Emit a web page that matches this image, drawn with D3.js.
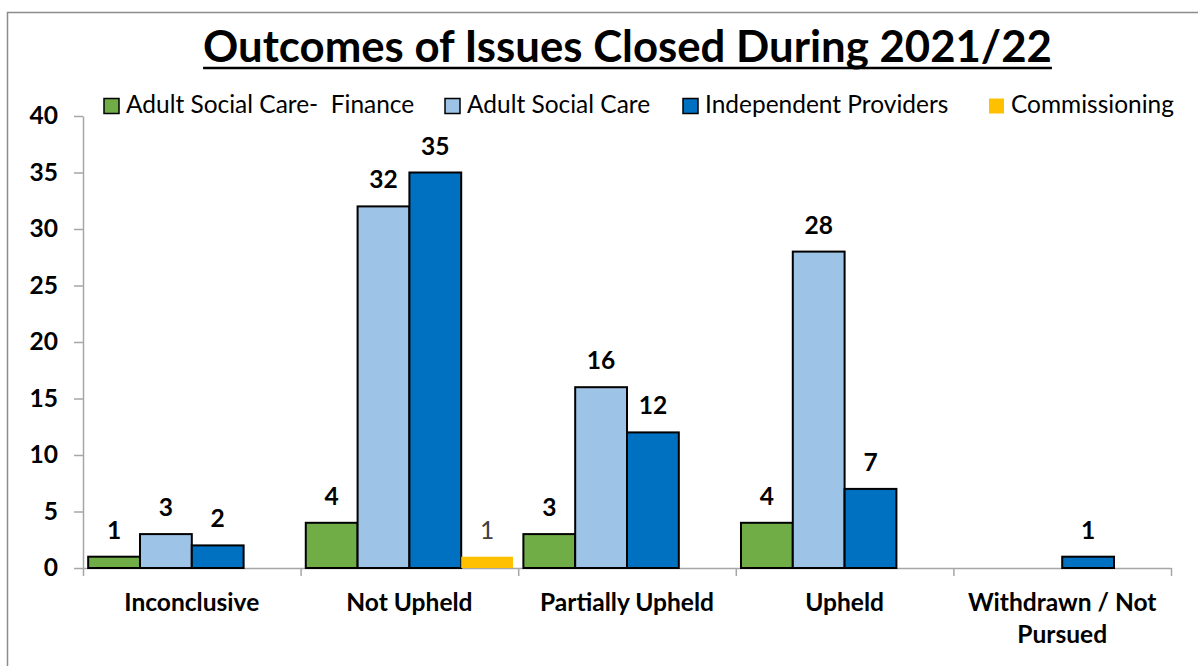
<!DOCTYPE html>
<html>
<head>
<meta charset="utf-8">
<script src="https://cdn.jsdelivr.net/npm/d3@7"></script>
<style>
  body { margin: 0; background: #fff; }
  text { font-family: Lato, "Open Sans", sans-serif; fill: #000; }
</style>
</head>
<body>
<svg id="chart" width="1198" height="666"></svg>
<script>
const title = 'Outcomes of Issues Closed During 2021/22';
const categories = ['Inconclusive', 'Not Upheld', 'Partially Upheld', 'Upheld', 'Withdrawn / Not\nPursued'];
const seriesNames = ['Adult Social Care-  Finance', 'Adult Social Care', 'Independent Providers', 'Commissioning'];
const ascFinance = [1, 4, 3, 4, null];
const ascCare = [3, 32, 16, 28, null];
const independentProviders = [2, 35, 12, 7, 1];
const commissioning = [null, 1, null, null, null];
const yTicks = [0, 5, 10, 15, 20, 25, 30, 35, 40];

const seriesValues = [ascFinance, ascCare, independentProviders, commissioning];
const colors = ['#70AD47', '#9DC3E6', '#0070C0', '#FFC000'];

const svg = d3.select('#chart');

// size a font so the string is as wide as in the picture
function fitSize(str, weight, target) {
  const t = svg.append('text').attr('font-size', 100).attr('font-weight', weight).text(str);
  const w = t.node().getComputedTextLength();
  t.remove();
  return 100 * target / w;
}

const titleSize = fitSize(title, 700, 849);
const labelSize = fitSize('Inconclusive', 700, 135);
const legendSize = fitSize('Commissioning', 400, 163);

// outer frame
svg.append('rect')
  .attr('x', 7.5).attr('y', 12.5)
  .attr('width', 1400).attr('height', 900)
  .attr('fill', 'none').attr('stroke', '#8c8c8c').attr('stroke-width', 1.5);

// title
const titleX = 627.5;
const tt = svg.append('text')
  .attr('x', titleX).attr('y', 62)
  .attr('text-anchor', 'middle')
  .attr('font-size', titleSize).attr('font-weight', 700)
  .text(title);
const tw = tt.node().getComputedTextLength();
svg.append('line')
  .attr('x1', titleX - tw / 2).attr('x2', titleX + tw / 2)
  .attr('y1', 68).attr('y2', 68)
  .attr('stroke', '#000').attr('stroke-width', 2.5);

// scales
const x0 = d3.scaleBand().domain(categories).range([83, 1171]);
const x1 = d3.scaleBand().domain(d3.range(seriesNames.length))
  .range([0, x0.bandwidth()]).paddingOuter(0.1);
const y = d3.scaleLinear().domain([0, 40]).range([568, 116]);

// y axis
const yAxis = svg.append('g')
  .attr('transform', 'translate(83,0)')
  .call(d3.axisLeft(y).tickValues(yTicks).tickSize(9).tickSizeOuter(0).tickPadding(16));
yAxis.select('.domain').attr('stroke', '#a6a6a6').attr('stroke-width', 1.5);
yAxis.selectAll('.tick line').attr('stroke', '#a6a6a6').attr('stroke-width', 1.5);
yAxis.selectAll('.tick text')
  .attr('font-size', labelSize).attr('font-weight', 700)
  .attr('font-family', 'Lato, "Open Sans", sans-serif').attr('fill', '#000');

// x axis: ticks between categories
const xEdge = d3.scaleLinear().domain([0, categories.length]).range([83, 1171]);
const xAxis = svg.append('g')
  .attr('transform', `translate(0,${y(0)})`)
  .call(d3.axisBottom(xEdge).tickValues(d3.range(categories.length + 1))
    .tickFormat('').tickSize(8).tickSizeOuter(0));
xAxis.select('.domain').attr('stroke', '#a6a6a6').attr('stroke-width', 1.5);
xAxis.selectAll('.tick line').attr('stroke', '#a6a6a6').attr('stroke-width', 1.5);

// category labels
const catG = svg.append('g');
categories.forEach(c => {
  const t = catG.append('text')
    .attr('x', x0(c) + x0.bandwidth() / 2).attr('y', 611)
    .attr('text-anchor', 'middle')
    .attr('font-size', labelSize).attr('font-weight', 700);
  c.split('\n').forEach((line, i) => {
    t.append('tspan').attr('x', x0(c) + x0.bandwidth() / 2).attr('dy', i ? 32 : 0).text(line);
  });
});

// bars
const bars = [];
categories.forEach((c, i) => {
  seriesValues.forEach((vals, s) => {
    if (vals[i] != null) bars.push({ cat: c, s, v: vals[i] });
  });
});

svg.append('g').selectAll('rect')
  .data(bars)
  .join('rect')
  .attr('x', d => x0(d.cat) + x1(d.s))
  .attr('y', d => y(d.v))
  .attr('width', x1.bandwidth())
  .attr('height', d => y(0) - y(d.v))
  .attr('fill', d => colors[d.s])
  .attr('stroke', d => d.s === 3 ? 'none' : '#000')
  .attr('stroke-width', 2);

svg.append('g').selectAll('text')
  .data(bars)
  .join('text')
  .attr('x', d => x0(d.cat) + x1(d.s) + x1.bandwidth() / 2)
  .attr('y', d => y(d.v) - 18)
  .attr('text-anchor', 'middle')
  .attr('font-size', labelSize)
  .attr('font-weight', d => d.s === 3 ? 400 : 700)
  .style('fill', d => d.s === 3 ? '#404040' : '#000')
  .text(d => d.v);

// legend
const legendX = [104, 445, 683, 989];
const lg = svg.append('g');
seriesNames.forEach((name, s) => {
  lg.append('rect')
    .attr('x', legendX[s]).attr('y', 98.5)
    .attr('width', 15).attr('height', 15)
    .attr('fill', colors[s])
    .attr('stroke', s === 3 ? 'none' : '#000').attr('stroke-width', 1.5);
  lg.append('text')
    .attr('x', legendX[s] + 22).attr('y', 113)
    .attr('font-size', legendSize)
    .style('white-space', 'pre')
    .text(name);
});
</script>
</body>
</html>
